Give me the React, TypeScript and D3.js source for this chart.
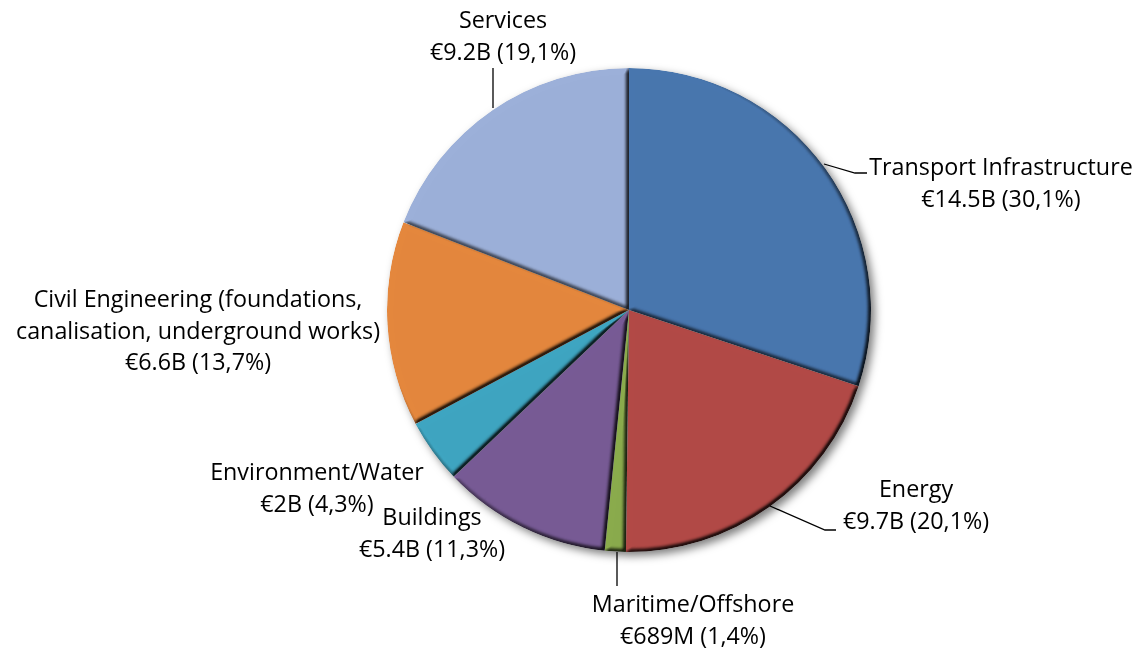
import React from "react";
import * as d3 from "d3";

const categories = [
  "Transport Infrastructure",
  "Energy",
  "Maritime/Offshore",
  "Buildings",
  "Environment/Water",
  "Civil Engineering (foundations, canalisation, underground works)",
  "Services",
];
const amountLabels = ["€14.5B", "€9.7B", "€689M", "€5.4B", "€2B", "€6.6B", "€9.2B"];
const shares = [30.1, 20.1, 1.4, 11.3, 4.3, 13.7, 19.1];
const shareLabels = ["30,1%", "20,1%", "1,4%", "11,3%", "4,3%", "13,7%", "19,1%"];
const colors = ["#4876ae", "#b24946", "#8aab4c", "#775a95", "#3ea5c1", "#e4873d", "#9cb0d9"];

// layout (not data)
const W = 1138, H = 652;
const CX = 629, CY = 310, R = 242;
const FONT = 23.3;
const LINE = 31.5;
const labelLayout = [
  { x: 1001, y: 175, lines: ["Transport Infrastructure"], leader: [[824, 164], [855, 173], [867, 173]] },
  { x: 916, y: 497, lines: ["Energy"], leader: [[770, 506], [825, 530], [836, 530]] },
  { x: 693, y: 612, lines: ["Maritime/Offshore"], leader: [[617, 552], [617, 586]] },
  { x: 432, y: 525, lines: ["Buildings"], leader: null },
  { x: 317, y: 480, lines: ["Environment/Water"], leader: null },
  { x: 198, y: 307, lines: ["Civil Engineering (foundations,", "canalisation, underground works)"], leader: null },
  { x: 503, y: 28, lines: ["Services"], leader: [[493, 68], [493, 108]] },
];

export default function App() {
  const pie = d3.pie<number>().sort(null).value((d) => d)(shares);
  const arc = d3.arc<d3.PieArcDatum<number>>().innerRadius(0).outerRadius(R);
  const line = d3.line();

  return (
    <svg width={W} height={H} style={{ position: "absolute", left: 0, top: 0, background: "#fff" }}
      fontFamily="'Open Sans', 'Noto Sans', sans-serif">
      <defs>
        <filter id="shadow" x="-20%" y="-20%" width="140%" height="140%" colorInterpolationFilters="sRGB">
          <feDropShadow dx="4" dy="4" stdDeviation="4" floodColor="#000" floodOpacity="0.5" />
        </filter>
        <filter id="bevel" x="-10%" y="-10%" width="120%" height="120%" colorInterpolationFilters="sRGB">
          <feGaussianBlur in="SourceAlpha" stdDeviation="2" result="blur" />
          <feDiffuseLighting in="blur" surfaceScale="4" diffuseConstant="1" lightingColor="#ffffff" result="light">
            <feDistantLight azimuth={225} elevation={45} />
          </feDiffuseLighting>
          <feComponentTransfer in="light" result="lightMap">
            <feFuncR type="linear" slope="1.13" intercept="0.2" />
            <feFuncG type="linear" slope="1.13" intercept="0.2" />
            <feFuncB type="linear" slope="1.13" intercept="0.2" />
          </feComponentTransfer>
          <feComposite in="SourceGraphic" in2="lightMap" operator="arithmetic" k1="1" k2="0" k3="0" k4="0" result="lit" />
          <feComposite in="lit" in2="SourceAlpha" operator="in" />
        </filter>
      </defs>
      <g filter="url(#shadow)">
        <g transform={`translate(${CX},${CY})`}>
          {pie.map((p, i) => (
            <path key={i} d={arc(p) || ""} fill={colors[i]} filter="url(#bevel)" />
          ))}
        </g>
      </g>
      {labelLayout.map((l, i) =>
        l.leader ? (
          <path key={"ld" + i} d={line(l.leader as [number, number][]) || ""} fill="none" stroke="#000" strokeWidth={1.3} />
        ) : null
      )}
      {labelLayout.map((l, i) => {
        const all = [...l.lines, `${amountLabels[i]} (${shareLabels[i]})`];
        return (
          <text key={"t" + i} x={l.x} y={l.y} textAnchor="middle" fontSize={FONT} fill="#000">
            {all.map((s, j) => (
              <tspan key={j} x={l.x} y={l.y + j * LINE}>{s}</tspan>
            ))}
          </text>
        );
      })}
    </svg>
  );
}
